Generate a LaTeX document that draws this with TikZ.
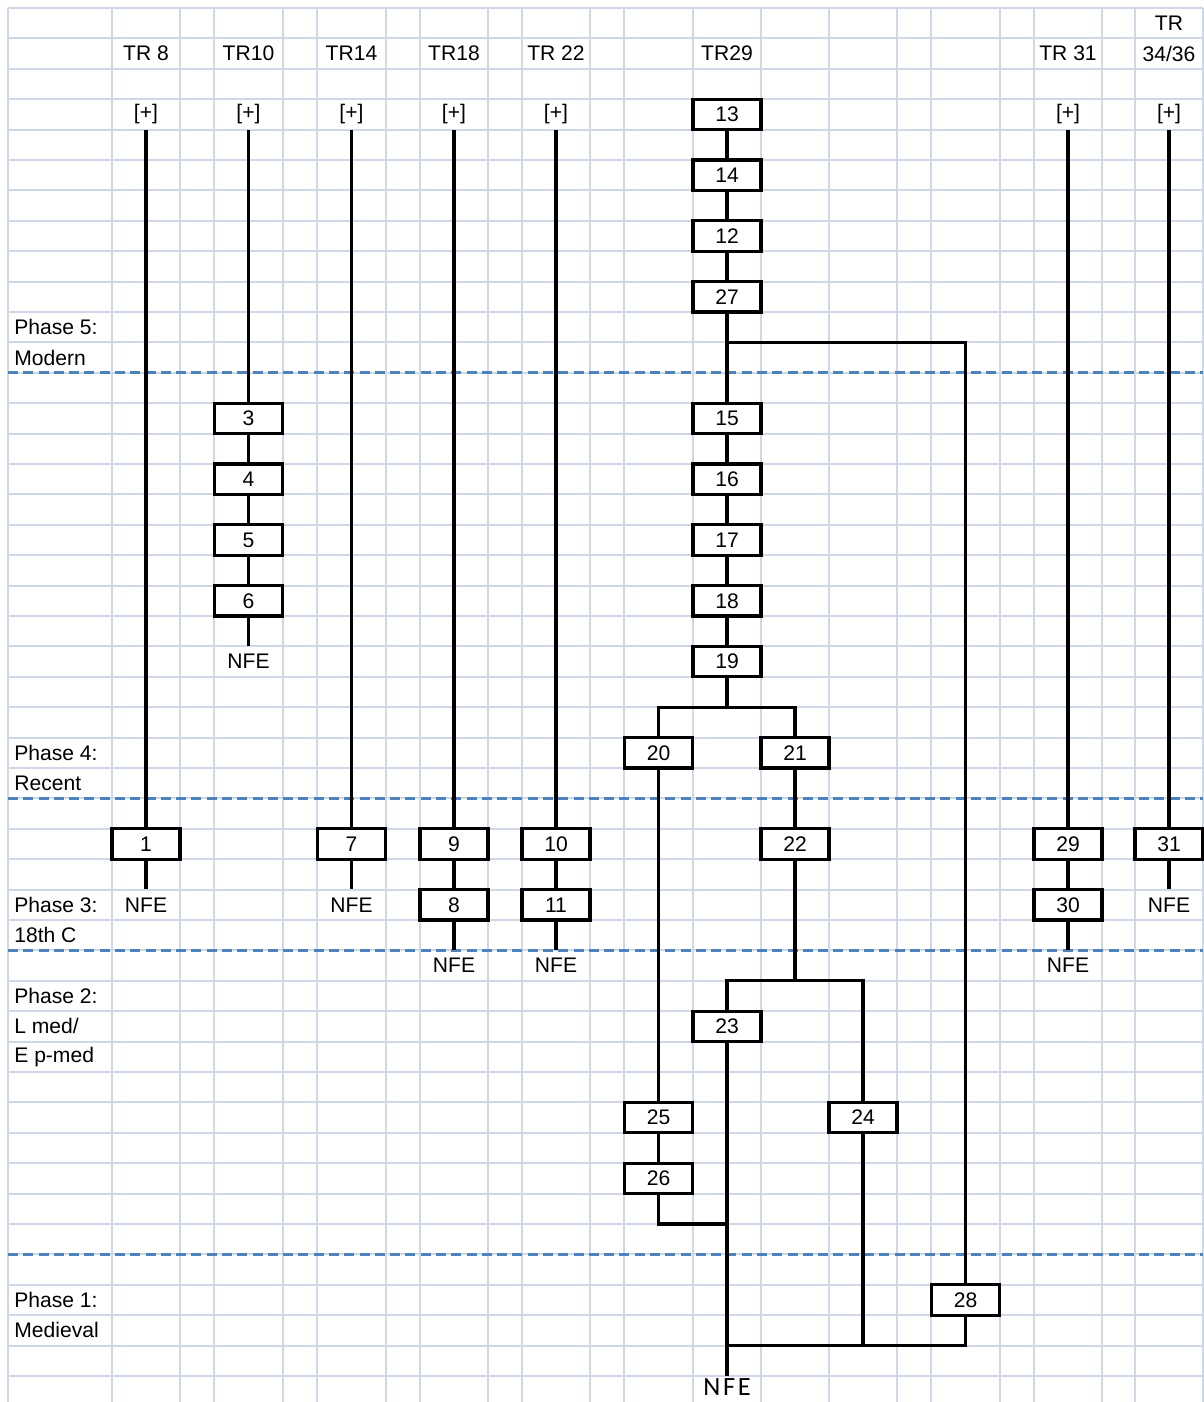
\documentclass[tikz,border=0pt]{standalone}
\usepackage{fontspec}
\setmainfont{Liberation Sans}
\newfontfamily\calibri[LetterSpace=10]{Carlito}
\definecolor{grille}{RGB}{208,216,232}
\definecolor{bleuphase}{RGB}{79,129,189}

\begin{document}
\begin{tikzpicture}[x=0.02cm, y=-0.02cm,
    font=\fontsize{12}{14}\selectfont,
    case/.style={draw, line width=1.9pt, fill=white, minimum width=1.36cm, minimum height=0.608cm, inner sep=0pt},
    vide/.style={minimum width=1.36cm, minimum height=0.608cm, inner sep=0pt},
    lien/.style={line width=1.9pt},
    phase/.style={anchor=west, inner sep=0pt},
    limite/.style={bleuphase, line width=1.6pt, dash pattern=on 5.7pt off 3pt}]
    % Dimensions : 22 colonnes irregulieres, 46 lignes de 30.4
    \def\h{30.4}
    \useasboundingbox (0,0) rectangle (1203,1402);
    \fill[white] (0,0) rectangle (1203,1402);

    % Dessiner la grille
    \foreach \x in {8,112,180,214,283,317,386,420,488,522,590,624,693,761,829,897,931,1000,1034,1102,1135,1203}
        \draw[grille, line width=1.1pt] (\x,8) -- (\x,1402);
    \foreach \k in {0,...,45}
        \draw[grille, line width=1.1pt] (8,{8+\h*\k}) -- (1203,{8+\h*\k});

    % limites des phases
    \foreach \k in {12,26,31,41}
        \draw[limite] (8,{8+\h*\k}) -- (1203,{8+\h*\k});

    % phases
    \node[phase] (ph5) at (14,327.2) {Phase 5:};
    \node[phase] (ph5b) at (14,357.6) {Modern};
    \node[phase] (ph4) at (14,752.8) {Phase 4:};
    \node[phase] (ph4b) at (14,783.2) {Recent};
    \node[phase] (ph3) at (14,904.8) {Phase 3:};
    \node[phase] (ph3b) at (14,935.2) {18th C};
    \node[phase] (ph2) at (14,996) {Phase 2:};
    \node[phase] (ph2b) at (14,1026.4) {L med/};
    \node[phase] (ph2c) at (14,1056.8) {E p-med};
    \node[phase] (ph1) at (14,1300) {Phase 1:};
    \node[phase] (ph1b) at (14,1330.4) {Medieval};

    % tranchees
    \node[vide] (h8) at (146,53.6) {TR 8};
    \node[vide] (h10) at (248.5,53.6) {TR10};
    \node[vide] (h14) at (351.5,53.6) {TR14};
    \node[vide] (h18) at (454,53.6) {TR18};
    \node[vide] (h22) at (556,53.6) {TR 22};
    \node[vide] (h29) at (727,53.6) {TR29};
    \node[vide] (h31) at (1068,53.6) {TR 31};
    \node[vide] (h34a) at (1169,23.2) {TR};
    \node[vide] (h34) at (1169,53.6) {34/36};

    \node[vide] (p8) at (146,114.4) {[+]};
    \node[vide] (p10) at (248.5,114.4) {[+]};
    \node[vide] (p14) at (351.5,114.4) {[+]};
    \node[vide] (p18) at (454,114.4) {[+]};
    \node[vide] (p22) at (556,114.4) {[+]};
    \node[vide] (p31) at (1068,114.4) {[+]};
    \node[vide] (p34) at (1169,114.4) {[+]};

    % TR 8, TR10, TR14
    \node[case] (b1) at (146,844) {1};
    \node[vide] (n1) at (146,904.8) {NFE};
    \node[case] (b3) at (248.5,418.4) {3};
    \node[case] (b4) at (248.5,479.2) {4};
    \node[case] (b5) at (248.5,540) {5};
    \node[case] (b6) at (248.5,600.8) {6};
    \node[vide] (n10) at (248.5,661.6) {NFE};
    \node[case] (b7) at (351.5,844) {7};
    \node[vide] (n14) at (351.5,904.8) {NFE};

    % TR18, TR 22
    \node[case] (b9) at (454,844) {9};
    \node[case] (b8) at (454,904.8) {8};
    \node[vide] (n18) at (454,965.6) {NFE};
    \node[case] (b10) at (556,844) {10};
    \node[case] (b11) at (556,904.8) {11};
    \node[vide] (n22) at (556,965.6) {NFE};

    % TR29
    \node[case] (b13) at (727,114.4) {13};
    \node[case] (b14) at (727,175.2) {14};
    \node[case] (b12) at (727,236) {12};
    \node[case] (b27) at (727,296.8) {27};
    \node[case] (b15) at (727,418.4) {15};
    \node[case] (b16) at (727,479.2) {16};
    \node[case] (b17) at (727,540) {17};
    \node[case] (b18) at (727,600.8) {18};
    \node[case] (b19) at (727,661.6) {19};
    \node[case] (b20) at (658.5,752.8) {20};
    \node[case] (b21) at (795,752.8) {21};
    \node[case] (b22) at (795,844) {22};
    \node[case] (b23) at (727,1026.4) {23};
    \node[case] (b24) at (863,1117.6) {24};
    \node[case] (b25) at (658.5,1117.6) {25};
    \node[case] (b26) at (658.5,1178.4) {26};
    \node[case] (b28) at (965.5,1300) {28};
    \node[anchor=north, inner sep=1pt, font=\calibri\fontsize{15}{17}\selectfont] (n29) at (727,1376) {NFE};

    % TR 31, TR 34/36
    \node[case] (b29) at (1068,844) {29};
    \node[case] (b30) at (1068,904.8) {30};
    \node[vide] (n31) at (1068,965.6) {NFE};
    \node[case] (b31) at (1169,844) {31};
    \node[vide] (n34) at (1169,904.8) {NFE};

    % points de jonction
    \coordinate (j27) at (727,342.4);
    \coordinate (j19) at (727,707.2);
    \coordinate (j22) at (795,980.8);
    \coordinate (j26) at (727,1224);
    \coordinate (j28) at (727,1345.6);

    % liens
    \draw[lien] (p8) -- (b1) -- (n1);
    \draw[lien] (p10) -- (b3) -- (b4) -- (b5) -- (b6) -- (n10);
    \draw[lien] (p14) -- (b7) -- (n14);
    \draw[lien] (p18) -- (b9) -- (b8) -- (n18);
    \draw[lien] (p22) -- (b10) -- (b11) -- (n22);
    \draw[lien] (p31) -- (b29) -- (b30) -- (n31);
    \draw[lien] (p34) -- (b31) -- (n34);

    \draw[lien] (b13) -- (b14) -- (b12) -- (b27) -- (b15) -- (b16) -- (b17) -- (b18) -- (b19) -- (j19);
    \draw[lien] (j27) -| (b28);
    \draw[lien] (b20) |- (j19) -| (b21);
    \draw[lien] (b21) -- (b22) -- (j22);
    \draw[lien] (b23) |- (j22) -| (b24);
    \draw[lien] (b20) -- (b25) -- (b26) |- (j26);
    \draw[lien] (b23) -- (n29);
    \draw[lien] (b24) |- (j28);
    \draw[lien] (b28) |- (j28);
\end{tikzpicture}
\end{document}
